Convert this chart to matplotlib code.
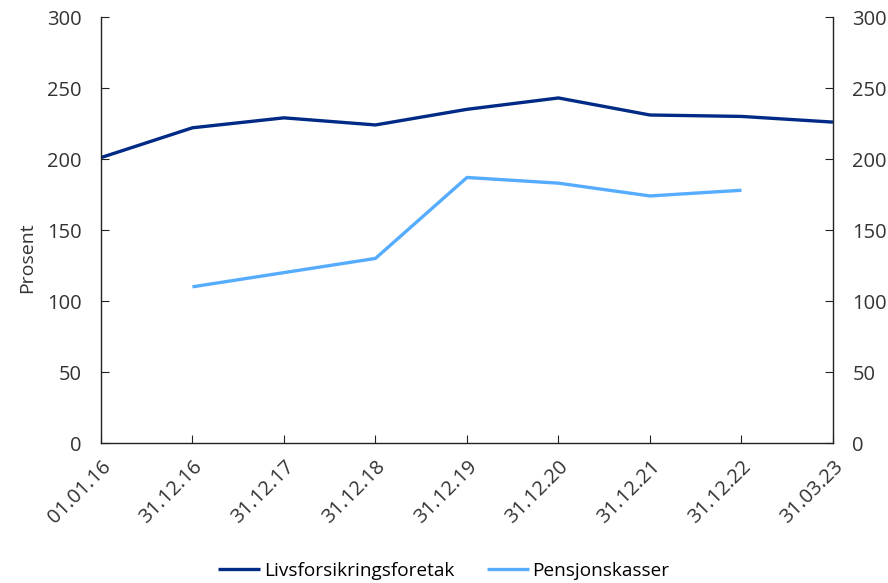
import numpy as np
import matplotlib.pyplot as plt

plt.rcParams['font.family'] = ['Open Sans', 'DejaVu Sans']

# Data
datoer = ['01.01.16', '31.12.16', '31.12.17', '31.12.18', '31.12.19',
          '31.12.20', '31.12.21', '31.12.22', '31.03.23']
livsforsikring = [201, 222, 229, 224, 235, 243, 231, 230, 226]
pensjonskasser = [np.nan, 110, 120, 130, 187, 183, 174, 178, np.nan]

MORK = '#002a85'
LYS = '#56acff'
TEKST = '#333333'

fig = plt.figure(figsize=(8.88, 5.83), dpi=100)
ax = fig.add_axes([0.1137, 0.2401, 0.8243, 0.7307])

x = np.arange(len(datoer))
ax.plot(x, livsforsikring, color=MORK, lw=2.4, label='Livsforsikringsforetak',
        solid_capstyle='butt')
ax.plot(x, pensjonskasser, color=LYS, lw=2.4, label='Pensjonskasser',
        solid_capstyle='butt')

ax.set_xlim(0, len(datoer) - 1)
ax.set_ylim(0, 300)
ax.set_yticks(range(0, 301, 50))
ax.set_xticks(x)
ax.set_xticklabels(datoer, rotation=45, ha='right', rotation_mode='anchor')

ax.spines['top'].set_visible(False)
for s in ['left', 'right', 'bottom']:
    ax.spines[s].set_color('#222222')
    ax.spines[s].set_linewidth(1.0)

ax.tick_params(axis='both', direction='in', length=6, color='#222222',
               labelsize=14.5, labelcolor=TEKST)
ax.tick_params(axis='y', right=True, labelright=True, pad=14)
ax.tick_params(axis='x', pad=10)
ax.set_ylabel('Prosent', fontsize=14, color=TEKST)
ax.yaxis.set_label_coords(-0.089, 0.434)

fig.legend(loc='center', bbox_to_anchor=(0.5, 0.021), ncol=2,
           frameon=False, fontsize=13.7, handlelength=2.2, handletextpad=0.2,
           columnspacing=1.7)

fig.savefig('out.png', dpi=100)
